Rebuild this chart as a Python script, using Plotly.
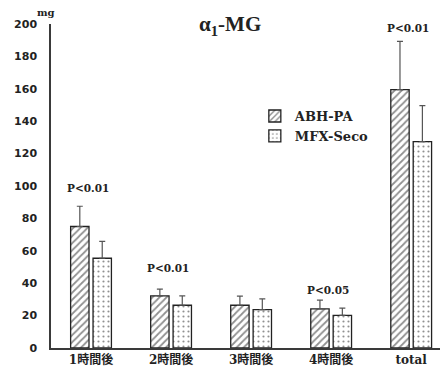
import plotly.graph_objects as go

categories = ["1時間後", "2時間後", "3時間後", "4時間後", "total"]
abh_pa = [75, 32.2, 26.4, 24.1, 159.5]
abh_pa_err = [12.5, 4.2, 5.6, 5.4, 29.8]
mfx_seco = [55.4, 26.4, 23.7, 20.2, 127.4]
mfx_seco_err = [10.4, 5.8, 6.6, 4.4, 22.2]
p_labels = ["P<0.01", "P<0.01", "", "P<0.05", "P<0.01"]
p_label_y = [99, 49.5, None, 36, 197.5]
y_ticks = list(range(0, 201, 20))

serif = "DejaVu Serif, Noto Sans CJK JP, serif"
axis_col = "#3a3a3a"

fig = go.Figure()
fig.add_trace(go.Bar(
    x=categories, y=abh_pa, name="ABH-PA",
    marker=dict(color="white", line=dict(color="#222", width=1.3),
                pattern=dict(shape="/", fgcolor="#222", bgcolor="white", size=5, solidity=0.35)),
    error_y=dict(type="data", symmetric=False, array=abh_pa_err, arrayminus=[0]*5,
                 color="#555", thickness=1.2, width=3),
))
fig.add_trace(go.Bar(
    x=categories, y=mfx_seco, name="MFX-Seco",
    marker=dict(color="white", line=dict(color="#222", width=1.3),
                pattern=dict(shape=".", fgcolor="#222", bgcolor="white", size=5, solidity=0.15)),
    error_y=dict(type="data", symmetric=False, array=mfx_seco_err, arrayminus=[0]*5,
                 color="#555", thickness=1.2, width=3),
))

for i, (lab, yv) in enumerate(zip(p_labels, p_label_y)):
    if lab:
        fig.add_annotation(x=categories[i], y=yv, text=f"<b>{lab}</b>", showarrow=False,
                           xshift=-3, font=dict(family=serif, size=10.5, color="#222"))

fig.add_annotation(xref="paper", yref="paper", x=-0.005, y=1.06, text="<b>mg</b>",
                   showarrow=False, xanchor="right", xshift=8,
                   font=dict(family=serif, size=10, color="#222"))

fig.update_layout(
    width=440, height=368,
    margin=dict(l=51, r=0, t=24, b=20, autoexpand=False),
    paper_bgcolor="white", plot_bgcolor="white",
    barmode="group", bargap=0.44, bargroupgap=0.18,
    title=dict(text="<b>α<sub>1</sub>-MG</b>", xref="container", yref="container",
               x=0.523, y=0.935, xanchor="center", yanchor="middle",
               font=dict(family="Liberation Serif, serif", size=21, color="#222")),
    legend=dict(x=0.524, y=0.685, xanchor="left", yanchor="middle", bgcolor="rgba(0,0,0,0)",
                font=dict(family=serif, size=13, color="#222", weight="bold"),
                itemwidth=30, tracegroupgap=0),
    showlegend=True,
)
fig.update_xaxes(range=[-0.5, 4.36], showline=True, linecolor=axis_col, linewidth=1.5,
                 showgrid=False, ticks="", zeroline=False,
                 tickfont=dict(family=serif, size=12, color="#222", weight="bold"))
fig.update_yaxes(range=[0, 200], tickvals=y_ticks, showline=True, linecolor=axis_col, linewidth=1.5,
                 showgrid=False, ticks="", zeroline=False, ticklabelstandoff=10,
                 tickfont=dict(family="DejaVu Sans, sans-serif", size=11, color="#222", weight="bold"))

fig.write_html("out.html")
